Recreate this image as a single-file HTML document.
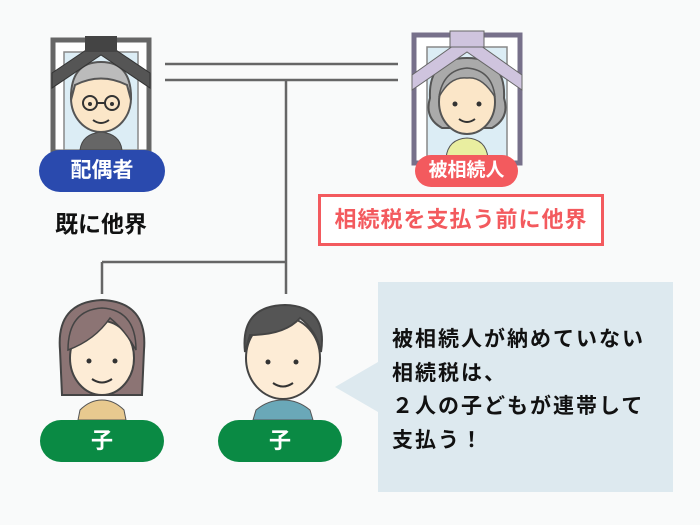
<!DOCTYPE html>
<html><head><meta charset="utf-8"><style>
*{margin:0;padding:0}
body{width:700px;height:525px;background:#f9fafa;position:relative;overflow:hidden;font-family:"Liberation Sans","Noto Sans CJK JP",sans-serif}
.abs{position:absolute}
.pill{position:absolute;color:#fff;font-weight:bold;text-align:center;border-radius:22px}
</style></head><body>
<svg class="abs" style="left:0;top:0" width="700" height="525">
<g stroke="#666" stroke-width="2.5" fill="none">
<line x1="165" y1="64" x2="398" y2="64"/><line x1="165" y1="80" x2="398" y2="80"/>
<line x1="286" y1="80" x2="286" y2="294"/>
<line x1="102" y1="262" x2="286" y2="262"/><line x1="102" y1="262" x2="102" y2="294"/>
</g>
<!-- left frame -->
<rect x="53" y="40" width="96" height="112" fill="#fff" stroke="#666" stroke-width="5"/>
<rect x="64" y="52" width="74" height="98" fill="#dcedf5" stroke="#888" stroke-width="1.5"/>
<path d="M80 150 Q82 134 101 132 Q120 134 122 150Z" fill="#666" stroke="#444"/>
<ellipse cx="101" cy="98" rx="30" ry="34" fill="#fbe6c8" stroke="#555" stroke-width="2"/>
<path d="M71 100 Q70 62 101 62 Q132 62 131 100 L127 85 Q101 72 75 85Z" fill="#bbb" stroke="#555" stroke-width="2"/>
<circle cx="90" cy="103" r="7" fill="none" stroke="#333" stroke-width="2"/><circle cx="112" cy="103" r="7" fill="none" stroke="#333" stroke-width="2"/>
<line x1="97" y1="103" x2="105" y2="103" stroke="#333" stroke-width="2"/>
<circle cx="90" cy="104" r="2" fill="#333"/><circle cx="112" cy="104" r="2" fill="#333"/>
<path d="M93 120 Q101 126 109 120" stroke="#333" stroke-width="2" fill="none"/>
<path d="M52 73 L101 40 L150 73 L150 88 L101 55 L52 88Z" fill="#555" stroke="#333"/>
<rect x="85" y="36" width="32" height="16" fill="#444"/>
<!-- right frame -->
<rect x="414" y="35" width="106" height="128" fill="#fff" stroke="#77708a" stroke-width="5"/>
<rect x="427" y="47" width="80" height="112" fill="#dcedf5" stroke="#888" stroke-width="1.5"/>
<path d="M430 98 Q428 58 467 58 Q506 58 504 98 Q510 118 492 128 L442 128 Q424 118 430 98Z" fill="#aaa" stroke="#555" stroke-width="2"/>
<path d="M446 158 Q448 139 467 138 Q486 139 488 158Z" fill="#e9eea0" stroke="#555"/>
<ellipse cx="467" cy="102" rx="28" ry="32" fill="#fbe6c8" stroke="#555" stroke-width="2"/>
<path d="M439 97 Q443 70 467 68 Q492 70 495 97 Q482 76 467 78 Q450 76 439 97Z" fill="#aaa" stroke="#555" stroke-width="1.5"/>
<circle cx="455" cy="104" r="2.5" fill="#333"/><circle cx="479" cy="104" r="2.5" fill="#333"/>
<path d="M459 119 Q467 125 475 119" stroke="#333" stroke-width="2" fill="none"/>
<path d="M412 75 L467 36 L522 75 L522 90 L467 52 L412 90Z" fill="#cfc4de" stroke="#666"/>
<rect x="450" y="31" width="34" height="16" fill="#cfc4de" stroke="#666"/>
<!-- children -->
<path d="M60 350 Q56 302 102 300 Q148 302 144 350 L142 395 L62 395Z" fill="#8c7474" stroke="#444" stroke-width="2"/>
<path d="M78 420 L80 410 Q90 400 102 400 Q114 400 124 410 L126 420Z" fill="#e8c98f" stroke="#555"/>
<ellipse cx="102" cy="358" rx="32" ry="37" fill="#fdecd6" stroke="#444" stroke-width="2"/>
<path d="M68 350 Q68 310 102 308 Q136 310 136 350 Q125 330 110 318 Q95 340 68 350Z" fill="#8c7474" stroke="#444" stroke-width="1.5"/>
<circle cx="89" cy="361" r="2.5" fill="#333"/><circle cx="115" cy="361" r="2.5" fill="#333"/>
<path d="M92 379 Q102 386 112 379" stroke="#333" stroke-width="2" fill="none"/>
<path d="M253 420 L256 410 Q268 400 283 400 Q298 400 310 410 L313 420Z" fill="#6aa8b8" stroke="#555"/>
<ellipse cx="283" cy="358" rx="37" ry="41" fill="#fdecd6" stroke="#444" stroke-width="2"/>
<path d="M245 352 Q240 306 285 305 Q328 306 321 352 Q316 330 300 318 Q285 335 250 335Z" fill="#555" stroke="#444" stroke-width="2"/>
<circle cx="268" cy="362" r="2.5" fill="#333"/><circle cx="296" cy="362" r="2.5" fill="#333"/>
<path d="M273 383 Q283 390 293 383" stroke="#333" stroke-width="2" fill="none"/>
<!-- bubble -->
<rect x="378" y="282" width="295" height="210" fill="#dde9ef"/>
<polygon points="335,387 378,362 378,412" fill="#dde9ef"/>
</svg>
<div class="pill" style="left:39px;top:150px;width:126px;height:42px;line-height:42px;background:#2a4aae;font-size:21px">配偶者</div>
<div class="abs" style="left:55px;top:205px;font-size:23px;font-weight:bold;color:#111">既に他界</div>
<div class="pill" style="left:415px;top:155px;width:103px;height:32px;line-height:32px;background:#f35a5e;font-size:19px">被相続人</div>
<div class="abs" style="left:318px;top:194px;width:280px;height:46px;border:3px solid #f35a5e;background:#fff;color:#f35a5e;font-size:22px;font-weight:bold;line-height:46px;text-align:center;letter-spacing:1px">相続税を支払う前に他界</div>
<div class="pill" style="left:40px;top:420px;width:124px;height:42px;line-height:42px;background:#0a8a44;font-size:22px">子</div>
<div class="pill" style="left:218px;top:420px;width:124px;height:42px;line-height:42px;background:#0a8a44;font-size:22px">子</div>
<div class="abs" style="left:392px;top:323px;font-size:21px;font-weight:bold;line-height:33.5px;letter-spacing:2px;color:#111;white-space:nowrap">被相続人が納めていない<br>相続税は、<br>２人の子どもが連帯して<br>支払う！</div>
</body></html>
